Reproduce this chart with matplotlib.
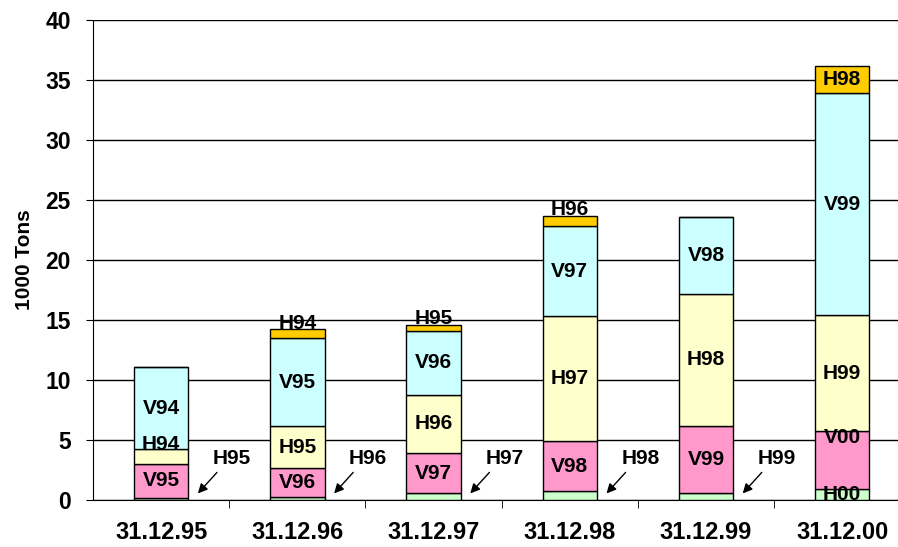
import numpy as np
import matplotlib
matplotlib.use('Agg')
import matplotlib.pyplot as plt

plt.rcParams['font.family'] = ['Liberation Sans', 'DejaVu Sans']
plt.rcParams['font.weight'] = 'bold'
plt.rcParams['axes.labelweight'] = 'bold'

#==============================================================================
# Data (1000 tons), stacked bottom -> top
#==============================================================================
dates = ['31.12.95', '31.12.96', '31.12.97', '31.12.98', '31.12.99', '31.12.00']
h_new = [0.20, 0.25, 0.56, 0.72, 0.56, 0.89]    # green
v_new = [2.83, 2.39, 3.33, 4.22, 5.61, 4.86]    # pink
h_prev = [1.22, 3.53, 4.89, 10.36, 11.03, 9.65]  # yellow
v_prev = [6.83, 7.30, 5.32, 7.50, 6.36, 18.50]  # cyan
h_old = [0.00, 0.75, 0.50, 0.90, 0.00, 2.30]    # orange

lab_h_new = ['H95', 'H96', 'H97', 'H98', 'H99', 'H00']
lab_v_new = ['V95', 'V96', 'V97', 'V98', 'V99', 'V00']
lab_h_prev = ['H94', 'H95', 'H96', 'H97', 'H98', 'H99']
lab_v_prev = ['V94', 'V95', 'V96', 'V97', 'V98', 'V99']
lab_h_old = ['', 'H94', 'H95', 'H96', '', 'H98']

colors = ['#ccffcc', '#ff99cc', '#ffffcc', '#ccffff', '#ffcc00']

#==============================================================================
# Plot
#==============================================================================
fig = plt.figure(figsize=(8.98, 5.47), dpi=100)
ax = fig.add_axes([0.1036, 0.0859, 0.8964, 0.8775])

x = np.arange(len(dates))
w = 0.4
series = [h_new, v_new, h_prev, v_prev, h_old]
bottom = np.zeros(len(dates))
bottoms = []
for s, c in zip(series, colors):
    s = np.array(s)
    ax.bar(x, s, w, bottom=bottom, color=c, edgecolor='black', linewidth=1, zorder=3)
    bottoms.append(bottom.copy())
    bottom = bottom + s

fs = 15
for i in range(len(dates)):
    # pink
    yv = bottoms[1][i] + v_new[i] / 2
    if i == 5:
        yv = bottoms[2][i] - 0.5
    ax.text(x[i], yv, lab_v_new[i], ha='center', va='center', fontsize=fs, zorder=4)
    # yellow
    yh = bottoms[2][i] + h_prev[i] / 2
    if i == 0:
        yh = bottoms[3][i] + 0.35
    ax.text(x[i], yh, lab_h_prev[i], ha='center', va='center', fontsize=fs, zorder=4)
    # cyan
    ax.text(x[i], bottoms[3][i] + v_prev[i] / 2, lab_v_prev[i], ha='center', va='center', fontsize=fs, zorder=4)
    # orange
    if lab_h_old[i]:
        if h_old[i] > 1.5:
            yo = bottoms[4][i] + h_old[i] / 2
        else:
            yo = bottom[i] + 0.5
        ax.text(x[i], yo, lab_h_old[i], ha='center', va='center', fontsize=fs, zorder=4)
    # green
    if i == 5:
        ax.text(x[i], 0.45, lab_h_new[i], ha='center', va='center', fontsize=fs, zorder=4)
    else:
        ax.text(x[i] + 0.52, 3.5, lab_h_new[i], ha='center', va='center', fontsize=fs, zorder=4)
        ax.annotate('', xy=(x[i] + 0.27, 0.55), xytext=(x[i] + 0.41, 2.3),
                    arrowprops=dict(arrowstyle='-|>', color='black', lw=1,
                                    shrinkA=0, shrinkB=0, mutation_scale=14))

ax.set_ylim(0, 40)
ax.set_yticks(np.arange(0, 41, 5))
ax.set_xlim(-0.5, 5.41)
ax.set_xticks(x)
ax.set_xticklabels(dates)
ax.set_xticks(np.arange(0.5, 5.5, 1), minor=True)
ax.tick_params(axis='x', which='major', length=0, labelsize=17, pad=15)
ax.tick_params(axis='x', which='minor', length=6, direction='out')
ax.tick_params(axis='y', labelsize=16.5, length=5, direction='out', pad=11)
ax.yaxis.grid(True, color='black', linewidth=1, zorder=0)
ax.set_axisbelow(True)
for sp in ['top', 'right']:
    ax.spines[sp].set_visible(False)
ax.set_ylabel('1000 Tons', fontsize=15, labelpad=8)

fig.savefig('out.png', dpi=100)
